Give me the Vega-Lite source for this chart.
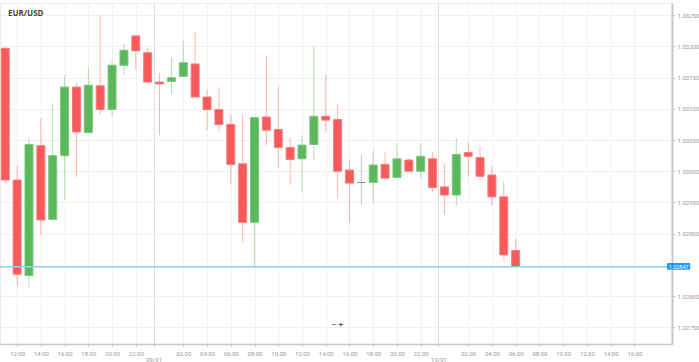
{
  "$schema": "https://vega.github.io/schema/vega-lite/v6.json",
  "width": 672,
  "height": 341,
  "autosize": {"type": "none"},
  "padding": {"left": 0, "top": 3, "right": 27, "bottom": 18},
  "background": "#ffffff",
  "title": {"text": "EUR/USD", "anchor": "start", "frame": "group", "orient": "top", "offset": -15, "dx": 8, "font": "Open Sans", "fontSize": 8, "fontWeight": "bold", "color": "#444444"},
  "config": {"view": {"stroke": "#ececec"}, "font": "Roboto", "axis": {"labelOverlap": false, "labelBound": false, "labelFlush": false}},
  "resolve": {"axis": {"x": "independent", "y": "independent"}, "scale": {"x": "shared", "y": "shared"}},
  "data": {"values": [
    {"hour": 11, "open": 1.03197, "high": 1.03200, "low": 1.02980, "close": 1.02986},
    {"hour": 12, "open": 1.02986, "high": 1.03009, "low": 1.02816, "close": 1.02835},
    {"hour": 13, "open": 1.02833, "high": 1.03054, "low": 1.02814, "close": 1.03043},
    {"hour": 14, "open": 1.03041, "high": 1.03085, "low": 1.02898, "close": 1.02922},
    {"hour": 15, "open": 1.02923, "high": 1.03108, "low": 1.02922, "close": 1.03025},
    {"hour": 16, "open": 1.03025, "high": 1.03154, "low": 1.02954, "close": 1.03135},
    {"hour": 17, "open": 1.03135, "high": 1.03141, "low": 1.02991, "close": 1.03063},
    {"hour": 18, "open": 1.03062, "high": 1.03166, "low": 1.03062, "close": 1.03138},
    {"hour": 19, "open": 1.03137, "high": 1.03250, "low": 1.03091, "close": 1.03099},
    {"hour": 20, "open": 1.03099, "high": 1.03176, "low": 1.03089, "close": 1.03170},
    {"hour": 21, "open": 1.03170, "high": 1.03204, "low": 1.03155, "close": 1.03194},
    {"hour": 22, "open": 1.03217, "high": 1.03218, "low": 1.03163, "close": 1.03193},
    {"hour": 23, "open": 1.03190, "high": 1.03198, "low": 1.03143, "close": 1.03143},
    {"hour": 24, "open": 1.03143, "high": 1.03157, "low": 1.03058, "close": 1.03140},
    {"hour": 25, "open": 1.03144, "high": 1.03182, "low": 1.03124, "close": 1.03150},
    {"hour": 26, "open": 1.03152, "high": 1.03209, "low": 1.03152, "close": 1.03174},
    {"hour": 27, "open": 1.03172, "high": 1.03223, "low": 1.03119, "close": 1.03119},
    {"hour": 28, "open": 1.03119, "high": 1.03131, "low": 1.03066, "close": 1.03099},
    {"hour": 29, "open": 1.03099, "high": 1.03135, "low": 1.03064, "close": 1.03075},
    {"hour": 30, "open": 1.03075, "high": 1.03091, "low": 1.02979, "close": 1.03011},
    {"hour": 31, "open": 1.03012, "high": 1.03091, "low": 1.02886, "close": 1.02918},
    {"hour": 32, "open": 1.02918, "high": 1.03086, "low": 1.02846, "close": 1.03086},
    {"hour": 33, "open": 1.03087, "high": 1.03185, "low": 1.03041, "close": 1.03066},
    {"hour": 34, "open": 1.03067, "high": 1.03135, "low": 1.03006, "close": 1.03038},
    {"hour": 35, "open": 1.03038, "high": 1.03054, "low": 1.02978, "close": 1.03019},
    {"hour": 36, "open": 1.03020, "high": 1.03058, "low": 1.02968, "close": 1.03042},
    {"hour": 37, "open": 1.03043, "high": 1.03201, "low": 1.03017, "close": 1.03088},
    {"hour": 38, "open": 1.03088, "high": 1.03155, "low": 1.03063, "close": 1.03082},
    {"hour": 39, "open": 1.03083, "high": 1.03107, "low": 1.02957, "close": 1.03000},
    {"hour": 40, "open": 1.03002, "high": 1.03019, "low": 1.02919, "close": 1.02981},
    {"hour": 41, "open": 1.02982, "high": 1.03026, "low": 1.02947, "close": 1.02982},
    {"hour": 42, "open": 1.02982, "high": 1.03033, "low": 1.02949, "close": 1.03010},
    {"hour": 43, "open": 1.03011, "high": 1.03030, "low": 1.02989, "close": 1.02989},
    {"hour": 44, "open": 1.02990, "high": 1.03045, "low": 1.02990, "close": 1.03020},
    {"hour": 45, "open": 1.03018, "high": 1.03020, "low": 1.02999, "close": 1.03000},
    {"hour": 46, "open": 1.03000, "high": 1.03044, "low": 1.02989, "close": 1.03024},
    {"hour": 47, "open": 1.03020, "high": 1.03031, "low": 1.02966, "close": 1.02974},
    {"hour": 48, "open": 1.02975, "high": 1.03012, "low": 1.02930, "close": 1.02962},
    {"hour": 49, "open": 1.02962, "high": 1.03053, "low": 1.02945, "close": 1.03027},
    {"hour": 50, "open": 1.03030, "high": 1.03047, "low": 1.02992, "close": 1.03024},
    {"hour": 51, "open": 1.03022, "high": 1.03040, "low": 1.02987, "close": 1.02992},
    {"hour": 52, "open": 1.02994, "high": 1.03008, "low": 1.02945, "close": 1.02959},
    {"hour": 53, "open": 1.02959, "high": 1.02983, "low": 1.02856, "close": 1.02866},
    {"hour": 54, "open": 1.02873, "high": 1.02892, "low": 1.02847, "close": 1.02847}
  ]},
  "layer": [
    {
      "mark": {"type": "rule", "strokeWidth": 1, "opacity": 0.45},
      "encoding": {
        "x": {"field": "hour", "type": "quantitative", "title": null,
          "scale": {"domain": [10.98, 66.75], "nice": false, "zero": false},
          "axis": {
            "orient": "bottom", "title": null,
            "values": [12, 14, 16, 18, 20, 22, 23.5, 26, 28, 30, 32, 34, 36, 38, 40, 42, 44, 46, 47.5, 50, 52, 54, 56, 58, 60, 62, 64],
            "labelExpr": "datum.value == 23.5 ? '09/01' : datum.value == 47.5 ? '10/01' : ((datum.value % 24) < 10 ? '0' : '') + (datum.value % 24) + ':00'",
            "labelFontSize": 6, "labelColor": "#999999", "labelFont": "Roboto",
            "labelPadding": {"condition": {"test": "datum.value == 23.5 || datum.value == 47.5", "value": 9}, "value": 3},
            "tickSize": 3, "tickColor": "#cccccc",
            "domainColor": "#c8c8c8", "domainWidth": 1.5,
            "grid": true,
            "gridColor": {"condition": {"test": "datum.value == 23.5 || datum.value == 47.5", "value": "#dddddd"}, "value": "#f1f1f1"},
            "labelOverlap": false
          }
        },
        "y": {"field": "low", "type": "quantitative", "title": null,
          "scale": {"domain": [1.027232, 1.032697], "nice": false, "zero": false},
          "axis": {
            "orient": "right", "title": null,
            "values": [1.0275, 1.028, 1.029, 1.0295, 1.03, 1.0305, 1.031, 1.0315, 1.032, 1.0325],
            "format": ".5f",
            "labelFontSize": 6, "labelColor": "#999999", "labelFont": "Roboto",
            "labelPadding": 2, "tickSize": 3, "tickColor": "#cccccc",
            "domainColor": "#c8c8c8", "domainWidth": 2,
            "grid": true, "gridColor": "#f1f1f1",
            "labelOverlap": false
          }
        },
        "y2": {"field": "high"},
        "color": {
          "condition": [
            {"test": "datum.close > datum.open", "value": "#5cb85c"},
            {"test": "datum.close < datum.open", "value": "#f65a5a"}
          ],
          "value": "#777777"
        }
      }
    },
    {
      "mark": {"type": "bar", "orient": "vertical", "size": 8, "strokeWidth": 1},
      "encoding": {
        "x": {"field": "hour", "type": "quantitative", "axis": null},
        "y": {"field": "open", "type": "quantitative", "axis": null},
        "y2": {"field": "close"},
        "color": {
          "condition": [
            {"test": "datum.close > datum.open", "value": "#5cb85c"},
            {"test": "datum.close < datum.open", "value": "#f65a5a"}
          ],
          "value": "#888888"
        },
        "stroke": {
          "condition": [
            {"test": "datum.close > datum.open", "value": "#7cc67c"},
            {"test": "datum.close < datum.open", "value": "#f77c7c"}
          ],
          "value": "#888888"
        }
      }
    },
    {
      "data": {"values": [{"price": 1.02847}]},
      "mark": {"type": "rule", "color": "#8fcff5", "strokeWidth": 1.5},
      "encoding": {
        "y": {"field": "price", "type": "quantitative", "axis": null}
      }
    },
    {
      "data": {"values": [{"x1": 66.75, "x2": 68.7, "p1": 1.02842, "p2": 1.02853}]},
      "mark": {"type": "rect", "color": "#2196f3", "cornerRadius": 1},
      "encoding": {
        "x": {"field": "x1", "type": "quantitative", "axis": null},
        "x2": {"field": "x2"},
        "y": {"field": "p1", "type": "quantitative", "axis": null},
        "y2": {"field": "p2"}
      }
    },
    {
      "data": {"values": [{"x": 67.73, "price": 1.02847, "label": "1.02847"}]},
      "mark": {"type": "text", "color": "#ffffff", "fontSize": 5.5, "font": "Roboto", "align": "center", "baseline": "middle"},
      "encoding": {
        "x": {"field": "x", "type": "quantitative", "axis": null},
        "y": {"field": "price", "type": "quantitative", "axis": null},
        "text": {"field": "label"}
      }
    },
    {
      "data": {"values": [{"x": 38.95, "price": 1.027537, "label": "−  +"}]},
      "mark": {"type": "text", "color": "#555555", "fontSize": 9, "font": "Roboto", "align": "center", "baseline": "middle"},
      "encoding": {
        "x": {"field": "x", "type": "quantitative", "axis": null},
        "y": {"field": "price", "type": "quantitative", "axis": null},
        "text": {"field": "label"}
      }
    }
  ]
}
